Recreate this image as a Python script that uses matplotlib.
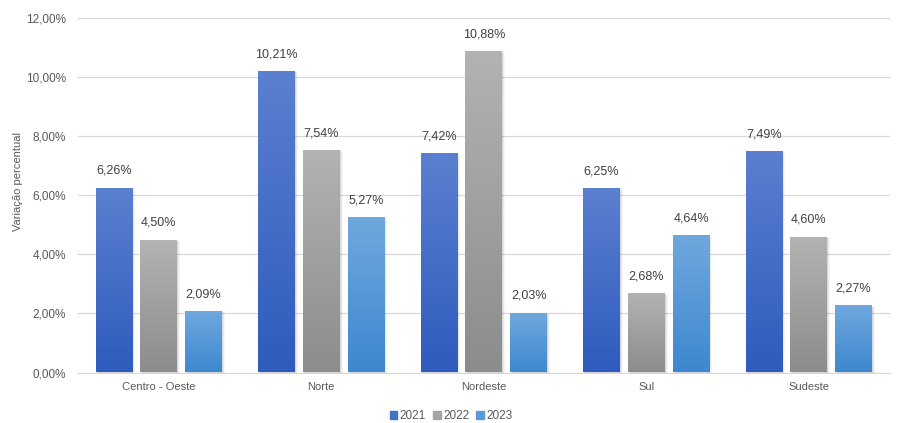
import matplotlib
matplotlib.use("Agg")
import matplotlib.pyplot as plt
import numpy as np
from matplotlib.colors import LinearSegmentedColormap
from matplotlib.patches import Patch

plt.rcParams['font.family'] = ['Liberation Sans', 'DejaVu Sans']

categories = ["Centro - Oeste", "Norte", "Nordeste", "Sul", "Sudeste"]
years = ["2021", "2022", "2023"]
v2021 = [6.26, 10.21, 7.42, 6.25, 7.49]
v2022 = [4.50, 7.54, 10.88, 2.68, 4.60]
v2023 = [2.09, 5.27, 2.03, 4.64, 2.27]
series = [v2021, v2022, v2023]

grad = [("#5b80d0", "#2e5bbd"), ("#b3b3b3", "#8c8c8c"), ("#70a8de", "#3d88cf")]
legend_colors = ["#4472c4", "#a5a5a5", "#5b9bd5"]
txt = "#595959"

fig = plt.figure(figsize=(9.02, 4.23), dpi=100)
ax = fig.add_axes([77.5/902, 1-372.5/423, 812.5/902, (372.5-18)/423])

x = np.arange(len(categories))
width = 0.226
step = 0.276
for i, vals in enumerate(series):
    pos = x + (i - 1) * step
    cmap = LinearSegmentedColormap.from_list("g", [grad[i][1], grad[i][0]])
    # soft shadow
    for k, a in [(0.006, 0.08), (0.012, 0.05), (0.018, 0.03)]:
        ax.bar(pos + k, np.array(vals), width, bottom=-0.03 - k, color="#000000", alpha=a,
               zorder=2, linewidth=0)
    bars = ax.bar(pos, vals, width, color="none", zorder=3, linewidth=0)
    for b, v in zip(bars, vals):
        xb = b.get_x()
        g = np.linspace(0, 1, 256).reshape(-1, 1)
        im = ax.imshow(g, extent=[xb, xb + width, 0, v], origin="lower", cmap=cmap,
                       aspect="auto", zorder=3)
        im.set_clip_path(b)
        ax.text(b.get_x() + width / 2, v + 0.36, f"{v:.2f}%".replace(".", ","),
                ha="center", va="bottom", fontsize=9, color="#404040", zorder=4)

ax.set_xlim(-0.5, 4.5)
ax.set_ylim(0, 12)
ax.set_yticks(np.arange(0, 12.01, 2))
ax.set_yticklabels([f"{t:.2f}%".replace(".", ",") for t in np.arange(0, 12.01, 2)])
ax.set_xticks(x)
ax.set_xticklabels(categories)
ax.tick_params(axis="both", length=0, colors=txt, labelsize=8)
ax.tick_params(axis="y", pad=8.5, labelsize=8.5)
ax.tick_params(axis="x", pad=7)
ax.grid(axis="y", color="#d9d9d9", linewidth=0.9, zorder=0)
ax.set_axisbelow(True)
for s in ["top", "right", "left"]:
    ax.spines[s].set_visible(False)
ax.spines["bottom"].set_color("#d9d9d9")
ax.set_ylabel("Variação percentual", color=txt, fontsize=8)
ax.yaxis.set_label_coords(-0.067, 0.538)

handles = [Patch(color=c, label=y) for c, y in zip(legend_colors, years)]
fig.legend(handles=handles, loc="center", bbox_to_anchor=(0.5, 1 - 416/423), ncol=3, frameon=False,
           fontsize=8.5, handlelength=0.65, handleheight=0.65, handletextpad=0.2, columnspacing=0.6,
           labelcolor=txt, borderpad=0)

fig.savefig("out.png", dpi=100)
